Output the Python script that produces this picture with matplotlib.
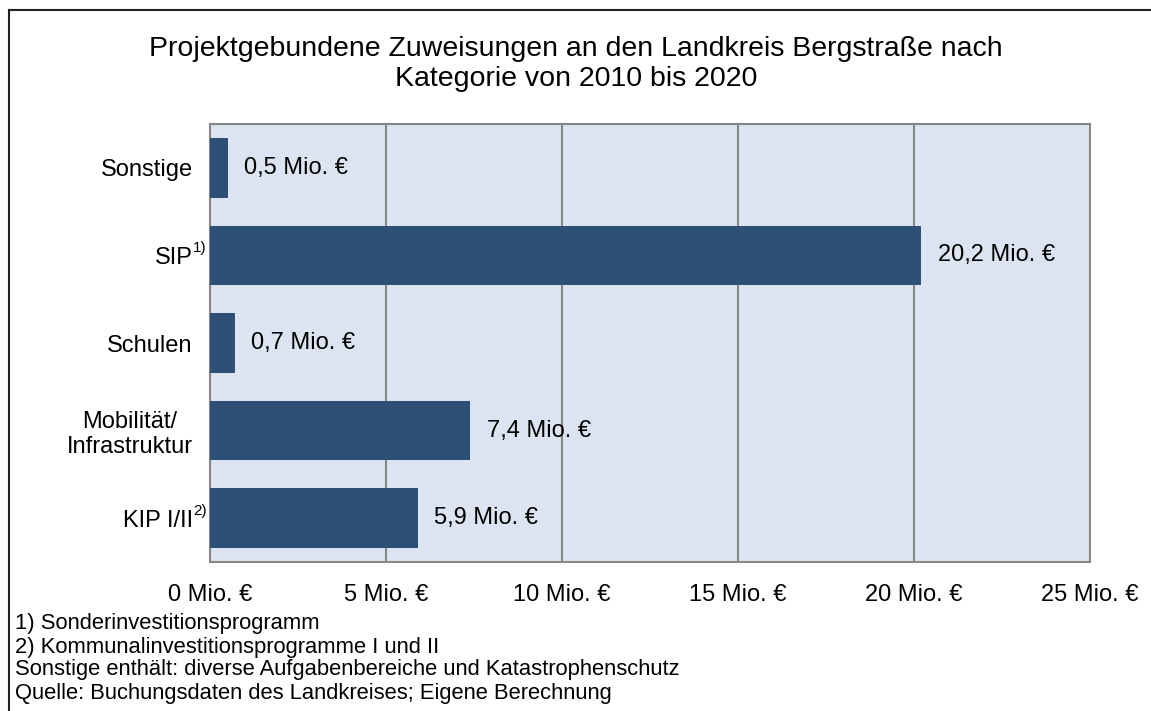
import matplotlib
matplotlib.use("Agg")
import matplotlib.pyplot as plt
from matplotlib.lines import Line2D

plt.rcParams['font.family'] = ['Liberation Sans', 'DejaVu Sans']

categories = ["Sonstige", "SIP", "Schulen", "Mobilität/\nInfrastruktur", "KIP I/II"]
values = [0.5, 20.2, 0.7, 7.4, 5.9]
value_labels = ["0,5 Mio. €", "20,2 Mio. €", "0,7 Mio. €", "7,4 Mio. €", "5,9 Mio. €"]
superscripts = {"SIP": "1)", "KIP I/II": "2)"}
xticks = [0, 5, 10, 15, 20, 25]
xtick_labels = ["0 Mio. €", "5 Mio. €", "10 Mio. €", "15 Mio. €", "20 Mio. €", "25 Mio. €"]
title = "Projektgebundene Zuweisungen an den Landkreis Bergstraße nach\nKategorie von 2010 bis 2020"
footnotes = ["1) Sonderinvestitionsprogramm",
             "2) Kommunalinvestitionsprogramme I und II",
             "Sonstige enthält: diverse Aufgabenbereiche und Katastrophenschutz",
             "Quelle: Buchungsdaten des Landkreises; Eigene Berechnung"]

W, H = 1151, 711
fig = plt.figure(figsize=(W / 100, H / 100), dpi=100)
ax = fig.add_axes([210 / W, 1 - 562 / H, (1090 - 210) / W, (562 - 124) / H])

bar_color = "#2E4F76"
bg = "#DBE4F0"
grid = "#878787"
fs = 17

ax.set_facecolor(bg)
ypos = list(range(len(categories)))
ax.barh(ypos, values, height=0.68, color=bar_color, zorder=3)
ax.set_ylim(len(categories) - 0.5, -0.5)
ax.set_xlim(0, 25)
ax.set_xticks(xticks)
ax.set_xticklabels(xtick_labels, fontsize=fs)
ax.set_yticks(ypos)
ax.set_yticklabels(categories, fontsize=fs)
for lbl in ax.get_yticklabels():
    lbl.set_multialignment('center')
ax.tick_params(axis='both', length=0)
ax.tick_params(axis='x', pad=15.5)
ax.tick_params(axis='y', pad=12.5)
ax.xaxis.grid(True, color=grid, linewidth=1.5, zorder=1)
ax.set_axisbelow(True)
for s in ax.spines.values():
    s.set_color(grid)
    s.set_linewidth(1.5)

for i, (v, t) in enumerate(zip(values, value_labels)):
    ax.annotate(t, xy=(v, i), xytext=(12, 0), textcoords='offset points',
                ha='left', va='center', fontsize=fs, zorder=4)

for i, c in enumerate(categories):
    if c in superscripts:
        ax.annotate(superscripts[c], xy=(0, i), xycoords=('axes fraction', 'data'),
                    xytext=(-2.2, 5.5), textcoords='offset points',
                    ha='right', va='center', fontsize=11)

fig.text(576 / W, 1 - 64 / H, title, ha='center', va='center', fontsize=20.5,
         linespacing=1.2)

for k, line in enumerate(footnotes):
    fig.text(15 / W, 1 - (624 + 23 * k) / H, line, ha='left', va='center', fontsize=15.8)

fig.add_artist(Line2D([9 / W, 9 / W], [1 - 10 / H, -0.1], color="#222222", linewidth=1.5,
                      transform=fig.transFigure))
fig.add_artist(Line2D([9 / W, 1.1], [1 - 10 / H, 1 - 10 / H], color="#222222", linewidth=1.5,
                      transform=fig.transFigure))

fig.savefig("out.png", dpi=100)
